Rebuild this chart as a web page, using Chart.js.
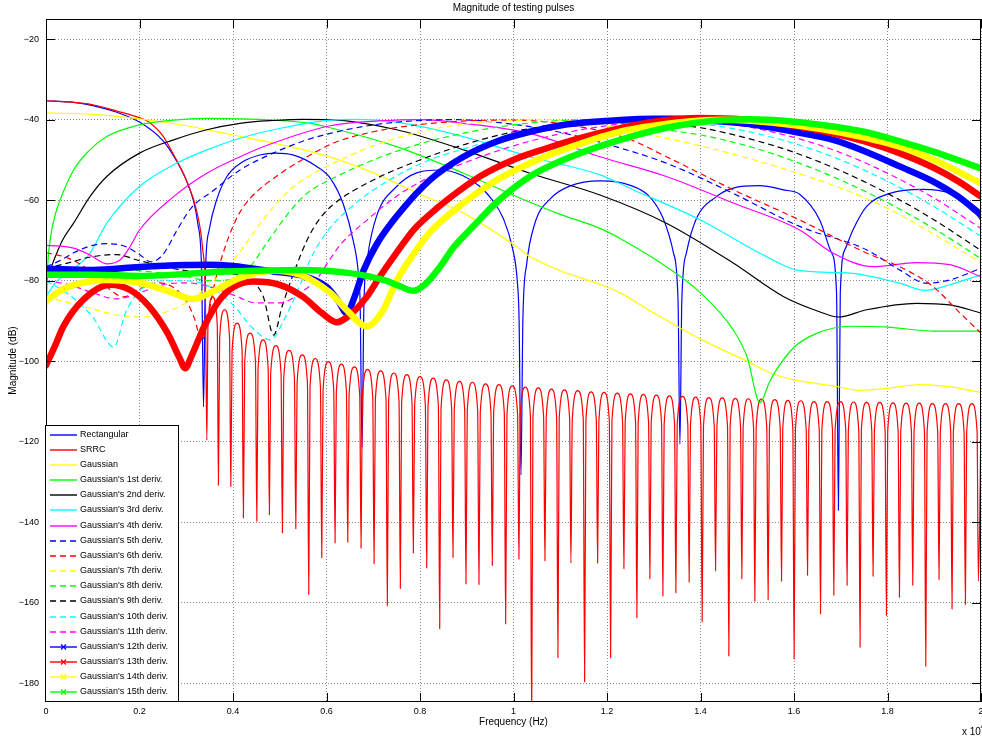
<!DOCTYPE html>
<html>
<head>
<meta charset="utf-8">
<title>Magnitude of testing pulses</title>
<script src="https://cdn.jsdelivr.net/npm/chart.js@4.4.1/dist/chart.umd.min.js"></script>
<style>
  html, body { margin: 0; padding: 0; background: #fff; }
</style>
</head>
<body>
<canvas id="pulses" width="982" height="737"></canvas>
<script>
// axis ticks (frequency in units of 1e4 Hz, magnitude in dB)
const xTicks = [0, 0.2, 0.4, 0.6, 0.8, 1, 1.2, 1.4, 1.6, 1.8, 2];
const yTicks = [-180, -160, -140, -120, -100, -80, -60, -40, -20];

const seriesNames = [
  'Rectangular', 'SRRC', 'Gaussian',
  "Gaussian's 1st deriv.", "Gaussian's 2nd deriv.", "Gaussian's 3rd deriv.",
  "Gaussian's 4th deriv.", "Gaussian's 5th deriv.", "Gaussian's 6th deriv.",
  "Gaussian's 7th deriv.", "Gaussian's 8th deriv.", "Gaussian's 9th deriv.",
  "Gaussian's 10th deriv.", "Gaussian's 11th deriv.", "Gaussian's 12th deriv.",
  "Gaussian's 13th deriv.", "Gaussian's 14th deriv.", "Gaussian's 15th deriv."
];

// Rectangular pulse (sinc lobes)
const rectF = [0, 0.05, 0.1, 0.15, 0.2, 0.25, 0.273, 0.3, 0.315, 0.325,
  0.333, 0.337, 0.341, 0.349, 0.365, 0.387, 0.42, 0.46, 0.49, 0.53,
  0.579, 0.608, 0.636, 0.657, 0.668, 0.672, 0.676, 0.68, 0.688, 0.707,
  0.75, 0.793, 0.843, 0.89, 0.928, 0.955, 0.978, 0.998, 1.008, 1.012,
  1.016, 1.02, 1.028, 1.045, 1.08, 1.12, 1.186, 1.25, 1.29, 1.32,
  1.342, 1.352, 1.356, 1.36, 1.37, 1.39, 1.434, 1.47, 1.525, 1.58,
  1.612, 1.655, 1.68, 1.691, 1.695, 1.699, 1.71, 1.726, 1.755, 1.805,
  1.876, 1.933, 1.983, 2.0];
const rectDb = [-35.3, -35.6, -36.5, -38.1, -40.6, -45.2, -49, -55, -60, -66,
  -78, -111.3, -78, -67.4, -59.9, -54.1, -50.5, -48.7, -48.3, -48.8,
  -51.6, -54.5, -61, -70, -78, -86, -121.4, -86, -74, -64,
  -56.6, -53.2, -52.5, -53.8, -56.6, -60, -64.5, -72, -80, -90,
  -128.2, -90, -76, -66, -59.5, -56.5, -55.2, -56.3, -59, -64.5,
  -73, -85, -120.5, -85, -73, -64.9, -59.1, -57, -56.4, -57.5,
  -58.5, -64.9, -73, -83, -137, -83, -72, -67.4, -61.6, -58.3,
  -57.3, -58.3, -62.4, -65];

// SRRC: main lobe, then a comb of sidelobes (null positions, null depths, lobe tops)
const srrcMainF = [0, 0.05, 0.1, 0.15, 0.2, 0.219, 0.25, 0.273, 0.3, 0.323, 0.335, 0.341];
const srrcMainDb = [-35.3, -35.6, -36.3, -37.8, -39.5, -40.5, -44, -48.7, -55, -63, -72, -85];
const srrcNullF = [0.344, 0.3688, 0.3953, 0.4222, 0.4509, 0.4778, 0.5056, 0.5343, 0.562, 0.5898,
  0.6183, 0.6454, 0.6739, 0.7017, 0.7301, 0.7579, 0.7857, 0.8143, 0.8421, 0.8705,
  0.8983, 0.9261, 0.9546, 0.9832, 1.0116, 1.0388, 1.0672, 1.095, 1.1228, 1.1521,
  1.1799, 1.2077, 1.2361, 1.2639, 1.2917, 1.3195, 1.3473, 1.3757, 1.4035, 1.4322,
  1.4606, 1.4884, 1.5162, 1.5446, 1.5733, 1.6002, 1.6289, 1.6567, 1.6851, 1.7135,
  1.7413, 1.7691, 1.7977, 1.8255, 1.854, 1.8818, 1.9102, 1.938, 1.9666, 1.9944];
const srrcNullDb = [-119.6, -130.8, -131.1, -138.9, -139.7, -138.1, -142.6, -141.6, -157.9, -148.8,
  -145.1, -144.9, -146.4, -150.3, -160.7, -156.4, -147.6, -151.3, -166.4, -148.7,
  -155.3, -155.4, -150.7, -165.2, -149.1, -190, -149.5, -173.6, -150.1, -179.6,
  -150.1, -173.6, -151.5, -163.7, -154, -158.3, -157.5, -154.8, -164.7, -152,
  -173.2, -154, -159.6, -159.2, -154.6, -173.9, -153.1, -162.7, -158.1, -155.6,
  -171, -153.4, -163.1, -158.6, -155.6, -175.7, -154.2, -161.5, -160.4, -154.6];
const srrcTopDb = [-84, -87.2, -90.5, -93, -94.7, -96.1, -97.3, -98.4, -99.3, -100.1,
  -100.7, -101.4, -102, -102.4, -102.9, -103.3, -103.8, -104.2, -104.6, -105,
  -105.2, -105.6, -105.8, -106.1, -106.4, -106.6, -106.9, -107.1, -107.3, -107.6,
  -107.7, -107.9, -108.1, -108.2, -108.4, -108.6, -108.7, -108.9, -109, -109.1,
  -109.2, -109.3, -109.4, -109.5, -109.7, -109.8, -110, -110, -110, -110.1,
  -110.2, -110.2, -110.3, -110.4, -110.4, -110.5, -110.5, -110.5, -110.5];
const srrcEdgeDb = -115;

// Gaussian
const gaussF = [0, 0.1, 0.2, 0.3, 0.344, 0.4, 0.486, 0.6, 0.7, 0.75, 0.8, 0.893, 1.0, 1.035,
  1.1, 1.178, 1.228, 1.3, 1.4, 1.5, 1.55, 1.6, 1.69, 1.74, 1.8, 1.87, 1.93, 2.0];
const gaussDb = [-38.3, -38.7, -39.8, -41.5, -42.5, -43.8, -45.8, -49, -53.2, -55.8, -58.5, -63.2, -71, -74,
  -77.5, -80.6, -83, -88, -94.5, -100, -102.9, -104.6, -106.2, -107.2, -106.7, -105.8, -106.3, -107.7];

// derivatives 1..4 (solid)
const d1F = [0, 0.003, 0.009, 0.02, 0.03, 0.059, 0.094, 0.13, 0.2, 0.273, 0.344, 0.415, 0.486, 0.558,
  0.608, 0.75, 0.893, 1.035, 1.1, 1.185, 1.228, 1.327, 1.4, 1.47, 1.5, 1.527, 1.548, 1.563, 1.6,
  1.65, 1.72, 1.8, 1.9, 2.0];
const d1Db = [-92, -78, -69.8, -63.5, -60, -52.5, -47.5, -44.2, -41.3, -40.1, -39.7, -39.8, -40.1, -40.8,
  -42, -46.7, -53.3, -60.5, -63.5, -67, -69.5, -76.5, -83, -92.2, -99, -110.3, -105, -102, -96.5,
  -93, -91.3, -91.5, -92.5, -92.5];
const d2F = [0, 0.01, 0.02, 0.035, 0.059, 0.094, 0.13, 0.2, 0.273, 0.344, 0.415, 0.486, 0.55, 0.608,
  0.75, 0.893, 1.035, 1.185, 1.327, 1.47, 1.577, 1.65, 1.695, 1.755, 1.862, 1.933, 2.0];
const d2Db = [-80, -77, -74, -70, -65.7, -59.1, -54.1, -48.3, -45, -42.5, -40.9, -40.2, -39.9, -40,
  -42.5, -47.5, -53.3, -58.7, -65.7, -75.6, -83.9, -87.5, -89, -87.2, -85.6, -86, -88];
const d3F = [0, 0.02, 0.052, 0.094, 0.13, 0.2, 0.273, 0.344, 0.415, 0.486, 0.608, 0.66, 0.75, 0.893,
  1.035, 1.185, 1.256, 1.4, 1.541, 1.612, 1.719, 1.826, 1.88, 1.933, 2.0];
const d3Db = [-84, -80.5, -77.7, -73.2, -65.7, -56.6, -51.2, -47.5, -44.6, -42.5, -40.1, -39.9, -40.6, -44.2,
  -49.2, -53.7, -57.4, -64.9, -74, -77.5, -78.1, -80.6, -82.4, -81, -78.5];
const d4F = [0, 0.059, 0.094, 0.13, 0.159, 0.18, 0.2, 0.273, 0.344, 0.415, 0.486, 0.608, 0.75, 0.8,
  0.893, 1.035, 1.185, 1.327, 1.47, 1.612, 1.683, 1.769, 1.862, 1.933, 2.0];
const d4Db = [-71.2, -71.9, -73.6, -75.8, -74.8, -71.5, -67.4, -59.1, -53.3, -49.2, -45.8, -41.5, -40.1, -40,
  -40.9, -43.4, -49.2, -54.1, -60.7, -67.4, -73.1, -76.5, -75.5, -76, -79];

// derivatives 5..11 (dashed)
const d5F = [0, 0.03, 0.06, 0.1, 0.13, 0.17, 0.2, 0.225, 0.25, 0.28, 0.31, 0.358, 0.415, 0.486, 0.558,
  0.608, 0.7, 0.8, 0.88, 0.95, 1.05, 1.15, 1.207, 1.327, 1.47, 1.612, 1.755, 1.826, 1.883, 1.933, 2.0];
const d5Db = [-76.5, -75, -73, -71.2, -70.8, -71.5, -73.5, -75.3, -73.5, -67.5, -62, -57.6, -52.5, -48.3, -45,
  -43.4, -41.3, -40.2, -40, -40.5, -42, -44.5, -46.3, -50.8, -58.3, -66.5, -72.3, -77.3, -80.6, -79.8, -76.9];
const d6F = [0, 0.05, 0.1, 0.13, 0.166, 0.2, 0.24, 0.27, 0.3, 0.318, 0.333, 0.345, 0.36, 0.385, 0.41,
  0.437, 0.5, 0.55, 0.615, 0.7, 0.8, 0.9, 1.0, 1.1, 1.242, 1.327, 1.47, 1.612, 1.755, 1.826,
  1.897, 1.955, 2.0];
const d6Db = [-73, -74.5, -78, -81.5, -84, -82, -80.5, -81.5, -85, -89.5, -95, -90, -81, -71, -64,
  -59.5, -53.5, -49.8, -45.8, -43, -41.2, -40.3, -40.1, -41, -44.6, -49.2, -57.4, -64.9, -73.1, -76.5,
  -81.4, -88, -93];
const d7F = [0, 0.05, 0.1, 0.15, 0.208, 0.25, 0.3, 0.35, 0.4, 0.42, 0.47, 0.522, 0.57, 0.615,
  0.7, 0.8, 0.9, 1.0, 1.05, 1.15, 1.277, 1.4, 1.5, 1.6, 1.7, 1.8, 1.9, 2.0];
const d7Db = [-84, -85.5, -87, -88.5, -89, -88, -85.5, -81, -75, -72, -64, -57.4, -53.5, -50.8,
  -46.5, -43, -41, -40.2, -40, -40.6, -43.4, -46.5, -49.5, -53, -57, -62, -68.5, -75.5];
const d8F = [0, 0.1, 0.2, 0.3, 0.35, 0.4, 0.44, 0.47, 0.52, 0.558, 0.615, 0.7, 0.8, 0.9, 1.0,
  1.1, 1.15, 1.25, 1.327, 1.4, 1.5, 1.6, 1.7, 1.8, 1.9, 2.0];
const d8Db = [-78, -77, -77.5, -79, -80, -79.5, -76, -71, -63, -58.3, -54.5, -50, -46, -43.2, -41.3,
  -40.2, -40, -40.8, -42.5, -43.8, -46.5, -50.3, -55, -60.6, -67.1, -74.5];
const d9F = [0, 0.05, 0.1, 0.15, 0.2, 0.3, 0.4, 0.44, 0.465, 0.487, 0.505, 0.535, 0.558, 0.58, 0.61,
  0.7, 0.8, 0.9, 1.0, 1.1, 1.2, 1.363, 1.4, 1.5, 1.6, 1.7, 1.8, 1.9, 2.0];
const d9Db = [-77, -75.5, -74, -73.5, -75, -77.5, -78.3, -80, -84, -93.5, -86.4, -76.5, -70, -65.5, -61.5,
  -55, -50, -46, -43, -41, -40.1, -41.5, -42, -44.6, -48.1, -52.7, -58.3, -64.9, -72.5];
const d10F = [0, 0.05, 0.1, 0.145, 0.17, 0.2, 0.25, 0.3, 0.35, 0.4, 0.44, 0.48, 0.51, 0.545, 0.565,
  0.6, 0.65, 0.7, 0.8, 0.9, 1.0, 1.1, 1.2, 1.27, 1.4, 1.5, 1.6, 1.7, 1.8, 1.9, 2.0];
const d10Db = [-80, -83.5, -89, -96.5, -88, -82.5, -80, -80, -81.5, -86, -91.5, -94.7, -89.5, -80.6, -74.8,
  -68, -62, -57.5, -51, -47, -44, -42, -40.5, -40, -41, -42.9, -45.9, -50, -55.3, -61.6, -69];
const d11F = [0, 0.05, 0.1, 0.15, 0.2, 0.25, 0.3, 0.35, 0.4, 0.45, 0.5, 0.55, 0.58, 0.6, 0.63,
  0.686, 0.75, 0.8, 0.9, 1.0, 1.1, 1.2, 1.33, 1.47, 1.6, 1.7, 1.8, 1.9, 2.0];
const d11Db = [-80, -81, -83, -84.5, -83, -81, -80.5, -81.5, -83.5, -85.5, -85.5, -82.5, -79.5, -76, -71,
  -65, -59, -55.5, -50.5, -46.5, -43.5, -41.5, -40, -41.2, -44.4, -48.2, -53.3, -59.5, -67];

// derivatives 12..15 (plotted with dense x markers, look like thick bands)
const d12F = [0, 0.1, 0.2, 0.3, 0.344, 0.4, 0.486, 0.55, 0.6, 0.625, 0.643, 0.66, 0.679, 0.707, 0.75,
  0.821, 0.893, 0.964, 1.035, 1.106, 1.228, 1.3, 1.35, 1.4, 1.5, 1.6, 1.684, 1.755, 1.826, 1.9, 1.95, 2.0];
const d12Db = [-77, -77.3, -76.6, -76.1, -76, -76.3, -77.7, -78.8, -81.5, -85, -88, -84, -77.5, -71, -64,
  -55, -49.2, -45.4, -43, -41.3, -40.1, -39.8, -39.8, -40.1, -41, -43, -45, -48, -51.6, -55.5, -59, -63.6];
const d13F = [0, 0.02, 0.037, 0.08, 0.137, 0.18, 0.22, 0.26, 0.285, 0.298, 0.31, 0.34, 0.37, 0.4, 0.444,
  0.5, 0.55, 0.59, 0.622, 0.65, 0.686, 0.714, 0.75, 0.786, 0.821, 0.857, 0.928, 0.999, 1.071, 1.142,
  1.228, 1.3, 1.4, 1.5, 1.6, 1.7, 1.755, 1.826, 1.9, 1.95, 2.0];
const d13Db = [-101, -96, -91.4, -84.7, -81, -82.3, -86.3, -93, -99, -101.7, -99, -91, -85, -81.6, -80.2,
  -81, -84, -88, -90.3, -88.5, -84, -79, -73, -67.4, -63.5, -60, -54.1, -50, -47.1, -44.6,
  -42.1, -40.5, -39.6, -40, -41.5, -43.8, -45.5, -48.3, -52, -55.2, -59.1];
const d14F = [0, 0.03, 0.06, 0.13, 0.2, 0.26, 0.315, 0.36, 0.415, 0.486, 0.544, 0.608, 0.645, 0.686, 0.72,
  0.75, 0.778, 0.821, 0.893, 0.964, 1.035, 1.106, 1.228, 1.3, 1.4, 1.45, 1.5, 1.6, 1.7, 1.826, 1.9, 2.0];
const d14Db = [-85, -82.5, -81, -79.8, -80.5, -82.5, -84.5, -82.5, -79.3, -77.5, -78.5, -83, -87.5, -91.3, -87.5,
  -80, -74.8, -68, -60.7, -55, -50.8, -47.5, -43, -41.5, -40.2, -40, -40.2, -41.3, -43.2, -46.7, -50, -55.8];
const d15F = [0, 0.1, 0.2, 0.3, 0.36, 0.45, 0.544, 0.65, 0.722, 0.76, 0.785, 0.81, 0.843, 0.87, 0.893,
  0.93, 0.964, 1.035, 1.106, 1.228, 1.35, 1.5, 1.6, 1.684, 1.75, 1.826, 1.9, 1.95, 2.0];
const d15Db = [-78.5, -78.5, -78.8, -78.3, -77.8, -77.5, -77.3, -78.1, -79.8, -81.5, -82.5, -81, -76.5, -72, -69,
  -64.5, -60.5, -54.1, -50, -45, -41.5, -39.9, -40.5, -41.7, -43, -45.4, -48, -50, -52.1];

// ---------------------------------------------------------------------------

const FONT = '"Liberation Sans", Arial, Helvetica, sans-serif';
const TICK_LEN = 9;
const lineColors = ['#0000ff', '#ff0000', '#ffff00', '#00ff00', '#000000', '#00ffff', '#ff00ff',
  '#0000ff', '#ff0000', '#ffff00', '#00ff00', '#000000', '#00ffff', '#ff00ff',
  '#0000ff', '#ff0000', '#ffff00', '#00ff00'];

function zip(fs, dbs) {
  return fs.map((f, i) => ({ x: f, y: dbs[i] }));
}

// SRRC points: main lobe, then null / rounded lobe top / null ...
function srrcPoints() {
  const pts = zip(srrcMainF, srrcMainDb);
  const last = srrcNullF.length - 1;
  srrcNullF.forEach((f0, i) => {
    pts.push({ x: f0, y: srrcNullDb[i] });
    if (i === last) return;
    const w = srrcNullF[i + 1] - f0;
    const top = srrcTopDb[i];
    pts.push({ x: f0 + 0.1 * w, y: top - 7 });
    pts.push({ x: f0 + 0.5 * w, y: top });
    pts.push({ x: f0 + 0.9 * w, y: top - 7 });
  });
  pts.push({ x: 2, y: srrcEdgeDb });
  return pts;
}

const seriesData = [
  zip(rectF, rectDb), srrcPoints(), zip(gaussF, gaussDb),
  zip(d1F, d1Db), zip(d2F, d2Db), zip(d3F, d3Db), zip(d4F, d4Db),
  zip(d5F, d5Db), zip(d6F, d6Db), zip(d7F, d7Db), zip(d8F, d8Db),
  zip(d9F, d9Db), zip(d10F, d10Db), zip(d11F, d11Db),
  zip(d12F, d12Db), zip(d13F, d13Db), zip(d14F, d14Db), zip(d15F, d15Db)
];

const datasets = seriesData.map((data, i) => {
  const dashed = i >= 7 && i <= 13;
  const thick = i >= 14;
  return {
    label: seriesNames[i],
    data: data,
    borderColor: lineColors[i],
    backgroundColor: lineColors[i],
    borderWidth: thick ? 6.5 : 1.2,
    borderDash: dashed ? [6, 4] : [],
    borderJoinStyle: 'round',
    borderCapStyle: thick ? 'round' : 'butt',
    pointRadius: 0,
    fill: false,
    cubicInterpolationMode: 'monotone',
    order: seriesNames.length - 1 - i   // later series drawn on top
  };
});

// box around the axes with inward tick marks on all four sides
const framePlugin = {
  id: 'frame',
  afterDatasetsDraw(chart) {
    const { ctx, chartArea: a, scales } = chart;
    ctx.save();
    ctx.strokeStyle = '#000';
    ctx.lineWidth = 1;
    ctx.beginPath();
    scales.x.ticks.forEach(t => {
      const px = Math.round(scales.x.getPixelForValue(t.value)) + 0.5;
      ctx.moveTo(px, a.bottom); ctx.lineTo(px, a.bottom - TICK_LEN);
      ctx.moveTo(px, a.top); ctx.lineTo(px, a.top + TICK_LEN);
    });
    scales.y.ticks.forEach(t => {
      const py = Math.round(scales.y.getPixelForValue(t.value)) + 0.5;
      ctx.moveTo(a.left, py); ctx.lineTo(a.left + TICK_LEN, py);
      ctx.moveTo(a.right, py); ctx.lineTo(a.right - TICK_LEN, py);
    });
    ctx.stroke();
    ctx.strokeRect(Math.round(a.left) + 0.5, Math.round(a.top) + 0.5,
      Math.round(a.right - a.left) - 1, Math.round(a.bottom - a.top) - 1);
    ctx.restore();
  }
};

// legend box in the lower left corner + the x10^4 exponent label
const legendPlugin = {
  id: 'boxLegend',
  afterDraw(chart) {
    const { ctx, chartArea: a } = chart;
    const rowH = 15.15, boxW = 133, boxH = 277;
    const x0 = Math.round(a.left) - 1, y0 = Math.round(a.bottom) - boxH;
    ctx.save();
    ctx.fillStyle = '#fff';
    ctx.fillRect(x0, y0, boxW, boxH);
    ctx.strokeStyle = '#000';
    ctx.lineWidth = 1;
    ctx.strokeRect(x0 + 0.5, y0 + 0.5, boxW, boxH - 1);
    ctx.font = '9px ' + FONT;
    ctx.textBaseline = 'middle';
    chart.data.datasets.forEach((ds, i) => {
      const y = Math.round(y0 + 9.7 + i * rowH);
      ctx.strokeStyle = ds.borderColor;
      ctx.lineWidth = 1.4;
      ctx.setLineDash(ds.borderDash);
      ctx.beginPath();
      ctx.moveTo(x0 + 5, y);
      ctx.lineTo(x0 + 32, y);
      ctx.stroke();
      ctx.setLineDash([]);
      if (ds.borderWidth > 2) {
        const cx = x0 + 18.5;
        ctx.lineWidth = 1.2;
        ctx.beginPath();
        ctx.moveTo(cx - 2.5, y - 2.5); ctx.lineTo(cx + 2.5, y + 2.5);
        ctx.moveTo(cx - 2.5, y + 2.5); ctx.lineTo(cx + 2.5, y - 2.5);
        ctx.stroke();
      }
      ctx.fillStyle = '#000';
      ctx.fillText(ds.label, x0 + 35, y);
    });
    // exponent of the frequency axis
    ctx.fillStyle = '#000';
    ctx.textBaseline = 'alphabetic';
    ctx.font = '10px ' + FONT;
    ctx.fillText('x 10', a.right - 19, 735);
    ctx.font = '7px ' + FONT;
    ctx.fillText('4', a.right - 0.5, 729);
    ctx.restore();
  }
};

new Chart(document.getElementById('pulses'), {
  type: 'line',
  data: { datasets: datasets },
  plugins: [framePlugin, legendPlugin],
  options: {
    responsive: false,
    animation: false,
    devicePixelRatio: 1,
    layout: { padding: { top: 0, right: 1, bottom: 0, left: 0 } },
    plugins: {
      legend: { display: false },
      tooltip: { enabled: false },
      title: {
        display: true,
        fullSize: false,
        text: 'Magnitude of testing pulses',
        color: '#000',
        font: { family: FONT, size: 10, weight: 'normal' },
        padding: { top: 2, bottom: 5 }
      }
    },
    scales: {
      x: {
        type: 'linear',
        min: 0,
        max: 2,
        afterBuildTicks: s => { s.ticks = xTicks.map(v => ({ value: v })); },
        afterFit: s => { s.height = 35; s.paddingLeft = 0; s.paddingRight = 0; },
        ticks: {
          autoSkip: false,
          maxRotation: 0,
          padding: 4,
          color: '#000',
          font: { family: FONT, size: 9 },
          callback: v => String(v)
        },
        grid: { color: 'rgba(0,0,0,0.45)', drawTicks: false, lineWidth: 1 },
        border: { display: false, dash: [1, 2] },
        title: {
          display: true,
          text: 'Frequency (Hz)',
          color: '#000',
          font: { family: FONT, size: 10 },
          padding: { top: 0, bottom: 9 }
        }
      },
      y: {
        type: 'linear',
        min: -184.6,
        max: -15,
        afterBuildTicks: s => { s.ticks = yTicks.map(v => ({ value: v })); },
        afterFit: s => { s.width = 46; s.paddingTop = 0; s.paddingBottom = 0; },
        ticks: {
          padding: 7,
          color: '#000',
          font: { family: FONT, size: 9 },
          callback: v => String(v).replace('-', '\u2212')
        },
        grid: { color: 'rgba(0,0,0,0.45)', drawTicks: false, lineWidth: 1 },
        border: { display: false, dash: [1, 2] },
        title: {
          display: true,
          text: 'Magnitude (dB)',
          color: '#000',
          font: { family: FONT, size: 10 },
          padding: { top: 7.5, bottom: 0 }
        }
      }
    }
  }
});
</script>
</body>
</html>
